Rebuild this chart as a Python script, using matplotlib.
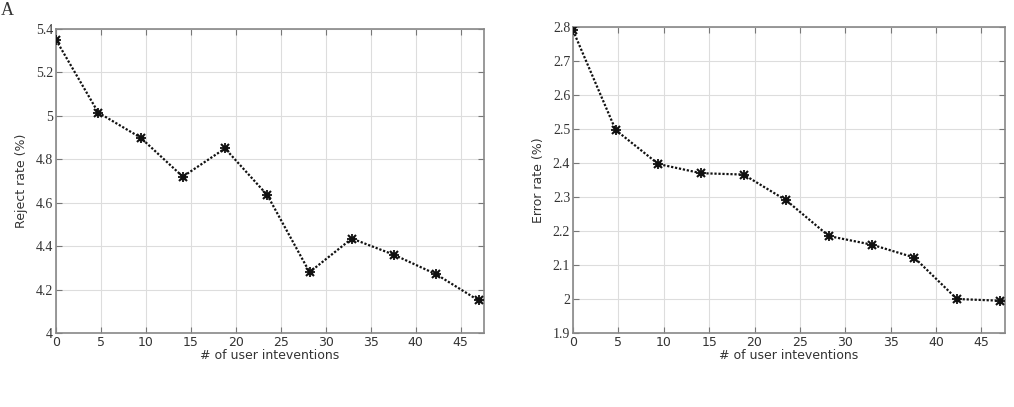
import numpy as np
import matplotlib
matplotlib.use('Agg')
from matplotlib import pyplot as plt

# number of user interventions (x) and the two rates
interventions = [0, 4.7, 9.4, 14.1, 18.8, 23.5, 28.2, 32.9, 37.6, 42.3, 47.0]
reject_rate = [5.35, 5.015, 4.90, 4.72, 4.85, 4.635, 4.28, 4.435, 4.36, 4.27, 4.15]
error_rate = [2.79, 2.497, 2.397, 2.37, 2.366, 2.29, 2.185, 2.16, 2.122, 2.0, 1.995]

x_ticks = [0, 5, 10, 15, 20, 25, 30, 35, 40, 45]
reject_ticks = [4, 4.2, 4.4, 4.6, 4.8, 5, 5.2, 5.4]
reject_labels = ['4', '4.2', '4.4', '4.6', '4.8', '5', '5.2', '5.4']
error_ticks = [1.9, 2.0, 2.1, 2.2, 2.3, 2.4, 2.5, 2.6, 2.7, 2.8]
error_labels = ['1.9', '2', '2.1', '2.2', '2.3', '2.4', '2.5', '2.6', '2.7', '2.8']

fig = plt.figure(figsize=(10.14, 4.07), dpi=100)
W, H = 1014, 407
# axes boxes in pixels (left, top, right, bottom)
boxes = [(56, 29, 484, 333), (573, 27, 1005, 333)]
ax1 = fig.add_axes([boxes[0][0]/W, 1-boxes[0][3]/H, (boxes[0][2]-boxes[0][0])/W, (boxes[0][3]-boxes[0][1])/H])
ax2 = fig.add_axes([boxes[1][0]/W, 1-boxes[1][3]/H, (boxes[1][2]-boxes[1][0])/W, (boxes[1][3]-boxes[1][1])/H])

def style(ax, y, yticks, ylabels, ylim, ylabel):
    ax.plot(interventions, y, color='#111111', linestyle=(0, (1, 0.8)), linewidth=1.6, zorder=3)
    ax.plot(interventions, y, linestyle='none', marker='x', markersize=5.5, mew=1.5, color='#111111', zorder=4)
    ax.plot(interventions, y, linestyle='none', marker='+', markersize=6.5, mew=1.3, color='#111111', zorder=4)
    ax.plot(interventions, y, linestyle='none', marker='s', markersize=3, color='#111111', zorder=4)
    ax.set_xlim(0, 47.6)
    ax.set_ylim(*ylim)
    ax.set_xticks(x_ticks)
    ax.set_xticklabels([str(t) for t in x_ticks], fontsize=9, color='#333333', family='DejaVu Sans')
    ax.set_yticks(yticks)
    ax.set_yticklabels(ylabels, fontsize=10, color='#333333', family='Liberation Serif')
    ax.grid(True, color='#dddddd', linewidth=0.8)
    ax.set_axisbelow(True)
    ax.tick_params(direction='in', top=True, right=True, length=4, color='#777777', pad=2)
    for s in ax.spines.values():
        s.set_color('#888888')
        s.set_linewidth(1.2)
    ax.set_xlabel('# of user inteventions', fontsize=9, color='#333333', labelpad=0)
    ax.set_ylabel(ylabel, fontsize=9, color='#333333', labelpad=6)

style(ax1, reject_rate, reject_ticks, reject_labels, (4, 5.4), 'Reject rate (%)')
style(ax2, error_rate, error_ticks, error_labels, (1.9, 2.8), 'Error rate (%)')

fig.text(0.001, 0.975, 'A', fontsize=13, family='Liberation Serif', color='#333333', va='center')

fig.savefig('out.png', dpi=100)
